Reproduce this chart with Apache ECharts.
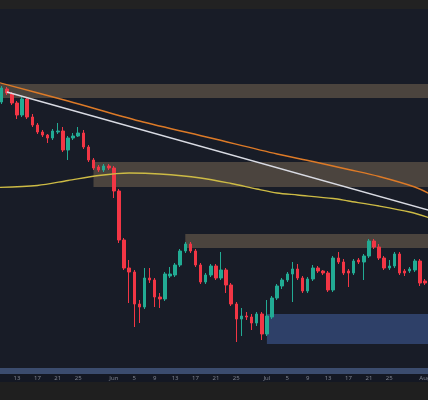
<!DOCTYPE html>
<html>
<head>
<meta charset="utf-8">
<script src="https://cdn.jsdelivr.net/npm/echarts@6/dist/echarts.min.js"></script>
<style>
html,body{margin:0;padding:0;background:#1f1f1f;}
#chart{width:428px;height:400px;}
</style>
</head>
<body>
<div id="chart"></div>
<script>
// ---- data ----
const firstCandleDate = '2022-05-10';
// daily candles from 2022-05-10 to 2022-08-01: [open, close, low, high]
const candles = [
  [30900,31600,30800,31700],[31550,31350,31250,31650],[31300,30850,30750,31400],
  [30850,30250,30050,30950],[30250,31050,30150,31150],[31050,30150,30050,31150],
  [30150,29750,29650,30300],[29750,29400,29300,29850],[29400,29250,29150,29500],
  [29250,29100,28850,29300],[29100,29450,29000,29550],[29400,29450,29300,29850],
  [29450,28500,28400,29650],[28500,29100,28000,29200],[29100,29200,29000,29350],
  [29200,29350,29150,29650],[29350,28650,28550,29500],[28650,28000,27900,28750],
  [28000,27600,27500,28100],[27650,27500,27400,27750],[27500,27700,27400,27800],
  [27700,27600,27500,27800],[27600,26450,26100,27700],[26450,24000,23850,26550],
  [24000,22600,22500,24100],[22600,22400,20850,23000],[22400,20800,19650,22500],
  [20800,20650,19850,21000],[20650,22100,20550,22600],[22100,22000,21850,22600],
  [22000,21150,20650,22100],[21150,21050,20600,21350],[21050,22300,20950,22400],
  [22200,22300,22100,22650],[22250,22750,22150,22850],[22750,23450,22650,23550],
  [23450,23800,23350,23900],[23800,23450,23350,23900],[23450,22750,22650,23550],
  [22750,21900,21800,22850],[21900,22250,21800,22350],[22250,22700,22150,22800],
  [22700,22100,22000,22800],[22100,22500,22000,23400],[22500,21750,21350,22600],
  [21750,20800,20700,21850],[20800,20050,18900,20900],[20050,20200,19200,20600],
  [20200,20150,20000,20400],[20150,19850,19500,20300],[19850,20300,19700,20400],
  [20300,19300,19000,20400],[19300,20200,19200,21000],[20150,21100,20050,21200],
  [21100,21700,21000,21800],[21700,22000,21550,22100],[22000,22300,21900,22400],
  [22300,22550,20900,22900],[22550,22100,22000,22800],[22100,21450,21350,22200],
  [21450,22050,21350,22150],[22050,22600,21950,22750],[22600,22450,22350,22700],
  [22450,22350,22250,22500],[22350,21500,21400,22450],[21500,23100,21400,23200],
  [23100,22900,22800,23400],[22900,22350,22250,23050],[22450,22350,21650,22550],
  [22350,22950,22250,23050],[23000,22900,22800,23100],[22900,23200,22000,23300],
  [23200,23950,23100,24050],[23950,23650,23550,24050],[23650,23100,23000,23800],
  [23100,22600,22500,23200],[22600,22700,22500,23000],[22700,23300,22600,23400],
  [23300,22350,22250,23400],[22450,22350,22200,22550],[22450,22550,22350,22650],
  [22500,22950,22400,23050],[22950,21850,21700,23050],[21950,21850,21750,22050]
];
const orangeLine = [
  ['2022-05-09',31900],['2022-05-23',30950],['2022-06-06',29950],['2022-06-20',29100],
  ['2022-07-03',28300],['2022-07-10',27925],['2022-07-17',27525],['2022-07-23',27175],
  ['2022-07-30',26650],['2022-08-02',26300]
];
const whiteLine = [['2022-05-11',31400],['2022-08-02',25470]];
const yellowLine = [
  ['2022-05-09',26625],['2022-05-17',26725],['2022-05-23',26975],['2022-05-29',27225],
  ['2022-06-04',27350],['2022-06-10',27300],['2022-06-18',27100],['2022-06-24',26825],
  ['2022-06-29',26550],['2022-07-03',26350],['2022-07-07',26250],['2022-07-14',26075],
  ['2022-07-17',25950],['2022-07-23',25700],['2022-07-29',25400],['2022-08-02',25100]
];
const zones = [
  {from:'2022-05-09', to:'2022-08-02', top:31800, bottom:31100, kind:'supply'},
  {from:'2022-05-28', to:'2022-08-02', top:27900, bottom:26650, kind:'supply'},
  {from:'2022-06-15', to:'2022-08-02', top:24300, bottom:23600, kind:'supply'},
  {from:'2022-07-01', to:'2022-08-02', top:20300, bottom:18800, kind:'demand'}
];
const tickDates = [
  '2022-05-13','2022-05-17','2022-05-21','2022-05-25',
  '2022-06-01','2022-06-05','2022-06-09','2022-06-13','2022-06-17','2022-06-21','2022-06-25',
  '2022-07-01','2022-07-05','2022-07-09','2022-07-13','2022-07-17','2022-07-21','2022-07-25',
  '2022-08-01'
];
const tickLabels = [
  '13','17','21','25',
  'Jun','5','9','13','17','21','25',
  'Jul','5','9','13','17','21','25',
  'Aug'
];
const xView = {from:'2022-05-09T16:00:00', to:'2022-08-01T14:10:00'};
const yRange = {min:17450, max:35550};

// ---- helpers: date -> day index (firstCandleDate = 0) ----
const DAY = 86400000;
const t0 = Date.parse(firstCandleDate + 'T00:00:00Z');
const dayIndex = s => (Date.parse((s.length > 10 ? s : s + 'T00:00:00') + 'Z') - t0) / DAY;

const candleData = candles.map((c, i) => [i].concat(c));
const toXY = arr => arr.map(p => [dayIndex(p[0]), p[1]]);
const tickIdx = tickDates.map(dayIndex);
const labelOf = {};
tickIdx.forEach((v, k) => { labelOf[v] = tickLabels[k]; });

const GREEN = '#22ab94', RED = '#f23645';
const zoneColor = {supply:'#4b443e', demand:'#2e4068'};

const chart = echarts.init(document.getElementById('chart'), null, {renderer:'canvas'});
chart.setOption({
  animation:false,
  backgroundColor:'#1f1f1f',
  graphic:[
    {type:'rect', z:-100, shape:{x:0,y:0,width:428,height:9}, style:{fill:'#222222'}},
    {type:'rect', z:-100, shape:{x:0,y:374,width:428,height:8}, style:{fill:'#141823'}}
  ],
  grid:{left:0, right:0, top:9, bottom:29, containLabel:false, outerBoundsMode:'none',
        show:true, backgroundColor:'#181c27', borderWidth:0},
  xAxis:{
    type:'value', min:dayIndex(xView.from), max:dayIndex(xView.to),
    axisLine:{show:true, onZero:false, lineStyle:{color:'#3b4c6e', width:6}},
    axisTick:{show:false},
    splitLine:{show:false},
    axisLabel:{
      show:true, color:'#7d828f', fontSize:6, margin:4, fontFamily:'Noto Sans',
      customValues:tickIdx, hideOverlap:false,
      showMinLabel:true, showMaxLabel:true,
      formatter:function(v){ return labelOf[v] !== undefined ? labelOf[v] : ''; }
    }
  },
  yAxis:{type:'value', min:yRange.min, max:yRange.max, show:false, splitLine:{show:false}},
  series:[
    {
      type:'line', z:1, data:[], silent:true,
      markArea:{
        silent:true,
        data: zones.map(z => [
          {xAxis:dayIndex(z.from), yAxis:z.top, itemStyle:{color:zoneColor[z.kind], opacity:1}},
          {xAxis:dayIndex(z.to), yAxis:z.bottom}
        ])
      }
    },
    {
      type:'candlestick', z:3, data:candleData, barWidth:3,
      itemStyle:{color:GREEN, color0:RED, borderColor:GREEN, borderColor0:RED, borderWidth:1}
    },
    {type:'line', z:4, data:toXY(yellowLine), smooth:0.3, symbol:'none', lineStyle:{color:'#cdbb45', width:1.3}},
    {type:'line', z:4, data:toXY(orangeLine), smooth:0.3, symbol:'none', lineStyle:{color:'#dd7a27', width:1.4}},
    {type:'line', z:4, data:toXY(whiteLine), symbol:'none', lineStyle:{color:'#d9dbe3', width:1.4}}
  ]
});
</script>
</body>
</html>
